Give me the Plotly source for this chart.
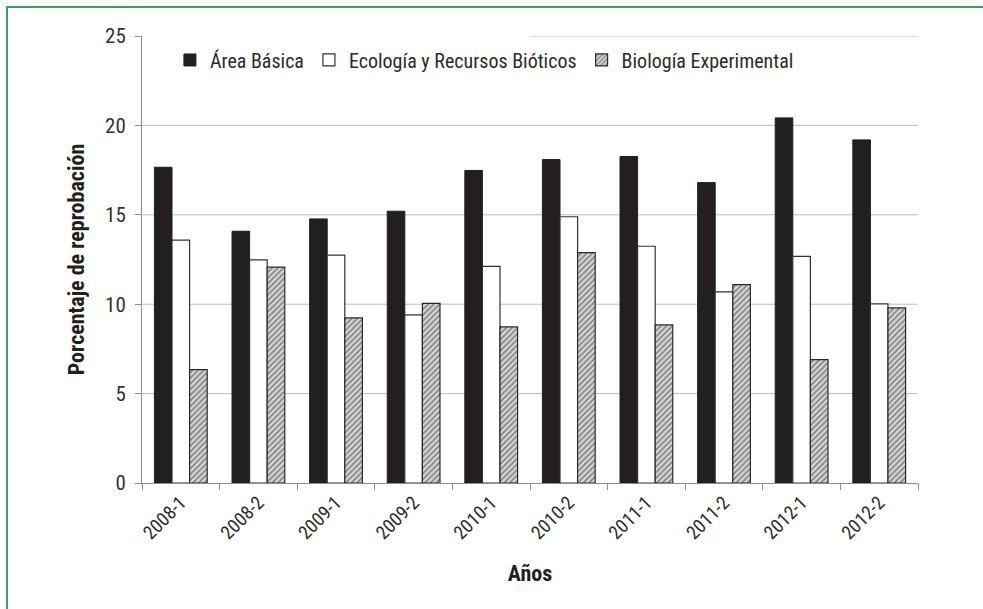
import plotly.graph_objects as go

# Semesters and failure percentages per study area
semestres = ["2008-1", "2008-2", "2009-1", "2009-2", "2010-1",
             "2010-2", "2011-1", "2011-2", "2012-1", "2012-2"]
area_basica = [17.66, 14.08, 14.77, 15.20, 17.48, 18.09, 18.26, 16.80, 20.42, 19.19]
ecologia = [13.58, 12.48, 12.74, 9.40, 12.12, 14.89, 13.24, 10.69, 12.67, 10.02]
biologia_exp = [6.34, 12.07, 9.23, 10.05, 8.73, 12.89, 8.84, 11.10, 6.90, 9.79]
y_ticks = [0, 5, 10, 15, 20, 25]

FONT = "Liberation Sans Narrow, Arial Narrow, Roboto Condensed, Liberation Sans, Arial, sans-serif"
INK = "#231f20"

fig = go.Figure()
fig.add_trace(go.Bar(
    x=semestres, y=area_basica, name="Área Básica",
    marker=dict(color=INK, line=dict(color=INK, width=1)),
))
fig.add_trace(go.Bar(
    x=semestres, y=ecologia, name="Ecología y Recursos Bióticos",
    marker=dict(color="white", line=dict(color="#333333", width=1.2)),
))
fig.add_trace(go.Bar(
    x=semestres, y=biologia_exp, name="Biología Experimental",
    marker=dict(
        color="#d4d4d4",
        line=dict(color="#2a2a2a", width=1.2),
        pattern=dict(shape="/", fgcolor="#2e2e2e", bgcolor="#d8d8d8",
                     size=4, solidity=0.45, fillmode="overlay"),
    ),
))

# Plot-area geometry (pixels) used to place the outer frame lines
W, H = 983, 609
L, R, T, B = 142, 65, 36, 126
pw, ph = W - L - R, H - T - B


def px_to_paper_x(px):
    return (px - L) / pw


def px_to_paper_y(py):
    return (H - B - py) / ph


frame_color = "#3c9f62"
shapes = [
    # green frame: left and top edges
    dict(type="line", xref="paper", yref="paper",
         x0=px_to_paper_x(7), x1=px_to_paper_x(7),
         y0=px_to_paper_y(7), y1=px_to_paper_y(H + 5),
         line=dict(color=frame_color, width=2)),
    dict(type="line", xref="paper", yref="paper",
         x0=px_to_paper_x(6), x1=px_to_paper_x(W + 5),
         y0=px_to_paper_y(7), y1=px_to_paper_y(7),
         line=dict(color=frame_color, width=2)),
    # top gridline, partly hidden behind the legend area
    dict(type="line", xref="paper", yref="y",
         x0=0.5, x1=1, y0=25, y1=25, layer="below",
         line=dict(color="#bdbdbd", width=1)),
]

fig.update_layout(
    width=W, height=H,
    margin=dict(l=L, r=R, t=T, b=B, pad=0),
    paper_bgcolor="white", plot_bgcolor="white",
    barmode="group", bargap=0.32, bargroupgap=0,
    font=dict(family=FONT, color="#333333", size=18),
    showlegend=True,
    legend=dict(
        orientation="h", x=0.036, xanchor="left", y=0.99, yanchor="top",
        font=dict(family=FONT, size=20, color="#2b2b2b"),
        bgcolor="rgba(0,0,0,0)", itemwidth=30, tracegroupgap=0,
    ),
    shapes=shapes,
    xaxis=dict(
        type="category", tickson="boundaries", ticks="outside",
        ticklen=6, tickcolor="#8c8c8c", tickwidth=1,
        showline=True, linecolor="#8c8c8c", linewidth=1,
        tickangle=-45, tickfont=dict(family=FONT, size=19, color="#2b2b2b"),
        showgrid=False, zeroline=False,
        title=dict(text="<b>Años</b>", font=dict(family=FONT, size=22, color="#231f20"),
                   standoff=22),
    ),
    yaxis=dict(
        range=[0, 25], tickvals=y_ticks,
        ticks="outside", ticklen=6, tickcolor="#8c8c8c", tickwidth=1,
        showline=True, linecolor="#8c8c8c", linewidth=1,
        tickfont=dict(family=FONT, size=21, color="#333333"),
        ticklabelstandoff=5,
        showgrid=False, zeroline=False,
        title=dict(text="<b>Porcentaje de reprobación</b>",
                   font=dict(family=FONT, size=22, color="#231f20"), standoff=14),
    ),
)

# Horizontal gridlines at 5, 10, 15, 20
for v in y_ticks[1:-1]:
    fig.add_shape(type="line", xref="paper", yref="y", x0=0, x1=1, y0=v, y1=v,
                  layer="below", line=dict(color="#bdbdbd", width=1))

fig.write_html("out.html")
